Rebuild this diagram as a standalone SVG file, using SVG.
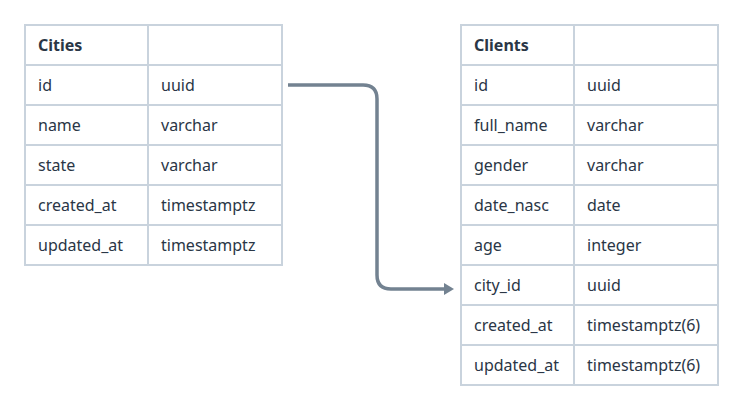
<svg xmlns="http://www.w3.org/2000/svg" width="743" height="410" viewBox="0 0 743 410">
<style>
.cell{fill:#ffffff;stroke:#c9d3dd;stroke-width:2}
.t{font-family:"Noto Sans","DejaVu Sans",sans-serif;font-size:16px;fill:#2a3646}
.h{font-weight:bold}
.conn{fill:none;stroke:#738291;stroke-width:3.5}
</style>
<defs>
<marker id="arr" markerWidth="10" markerHeight="12" refX="2" refY="6" orient="auto" markerUnits="userSpaceOnUse" viewBox="0 0 10 12">
<path d="M0,0 L10,6 L0,12 Z" fill="#738291"/>
</marker>
</defs>
<rect width="743" height="410" fill="#ffffff"/>
<g id="cities">
<rect class="cell" x="25" y="25" width="257" height="240"/>
<line class="cell" x1="148" y1="25" x2="148" y2="265"/>
<line class="cell" x1="25" y1="65" x2="282" y2="65"/>
<line class="cell" x1="25" y1="105" x2="282" y2="105"/>
<line class="cell" x1="25" y1="145" x2="282" y2="145"/>
<line class="cell" x1="25" y1="185" x2="282" y2="185"/>
<line class="cell" x1="25" y1="225" x2="282" y2="225"/>
<text class="t h" x="38" y="51">Cities</text>
<text class="t" x="38" y="91">id</text><text class="t" x="161" y="91">uuid</text>
<text class="t" x="38" y="131">name</text><text class="t" x="161" y="131">varchar</text>
<text class="t" x="38" y="171">state</text><text class="t" x="161" y="171">varchar</text>
<text class="t" x="38" y="211">created_at</text><text class="t" x="161" y="211">timestamptz</text>
<text class="t" x="38" y="251">updated_at</text><text class="t" x="161" y="251">timestamptz</text>
</g>
<g id="clients">
<rect class="cell" x="461" y="25" width="257" height="360"/>
<line class="cell" x1="574" y1="25" x2="574" y2="385"/>
<line class="cell" x1="461" y1="65" x2="718" y2="65"/>
<line class="cell" x1="461" y1="105" x2="718" y2="105"/>
<line class="cell" x1="461" y1="145" x2="718" y2="145"/>
<line class="cell" x1="461" y1="185" x2="718" y2="185"/>
<line class="cell" x1="461" y1="225" x2="718" y2="225"/>
<line class="cell" x1="461" y1="265" x2="718" y2="265"/>
<line class="cell" x1="461" y1="305" x2="718" y2="305"/>
<line class="cell" x1="461" y1="345" x2="718" y2="345"/>
<text class="t h" x="474" y="51">Clients</text>
<text class="t" x="474" y="91">id</text><text class="t" x="587" y="91">uuid</text>
<text class="t" x="474" y="131">full_name</text><text class="t" x="587" y="131">varchar</text>
<text class="t" x="474" y="171">gender</text><text class="t" x="587" y="171">varchar</text>
<text class="t" x="474" y="211">date_nasc</text><text class="t" x="587" y="211">date</text>
<text class="t" x="474" y="251">age</text><text class="t" x="587" y="251">integer</text>
<text class="t" x="474" y="291">city_id</text><text class="t" x="587" y="291">uuid</text>
<text class="t" x="474" y="331">created_at</text><text class="t" x="587" y="331">timestamptz(6)</text>
<text class="t" x="474" y="371">updated_at</text><text class="t" x="587" y="371">timestamptz(6)</text>
</g>
<g id="connectors">
<path class="conn" d="M288,85 H363 Q377,85 377,99 V275 Q377,289 391,289 H446" marker-end="url(#arr)"/>
</g>
</svg>
